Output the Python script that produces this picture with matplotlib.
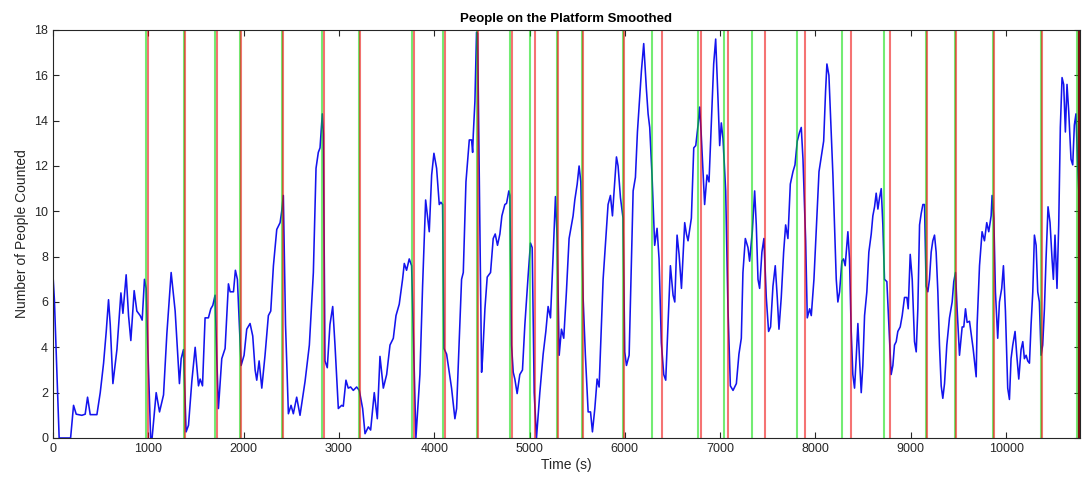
import numpy as np
import matplotlib
matplotlib.use('Agg')
import matplotlib.pyplot as plt

# smoothed people count
time_s = [0, 15, 40, 65, 185, 216, 244, 303, 338, 363, 391, 461, 496, 531, 559, 583, 601, 629, 671, 713,
          734, 768, 793, 817, 852, 880, 915, 936, 960, 978, 995, 1025, 1040, 1083, 1118, 1160, 1195, 1240, 1282, 1327,
          1345, 1369, 1397, 1422, 1457, 1492, 1527, 1544, 1569, 1596, 1631, 1656, 1677, 1701, 1719, 1736, 1771, 1806, 1841, 1859,
          1894, 1914, 1935, 1956, 1974, 2005, 2033, 2068, 2096, 2121, 2138, 2163, 2191, 2225, 2260, 2285, 2313, 2348, 2383, 2400,
          2417, 2440, 2470, 2498, 2522, 2557, 2592, 2645, 2690, 2732, 2760, 2784, 2802, 2826, 2837, 2854, 2878, 2906, 2935, 2959,
          2994, 3029, 3046, 3074, 3098, 3123, 3151, 3186, 3214, 3249, 3274, 3309, 3333, 3371, 3403, 3431, 3466, 3501, 3536, 3571,
          3599, 3633, 3668, 3686, 3710, 3738, 3763, 3808, 3850, 3878, 3910, 3948, 3973, 3997, 4025, 4053, 4070, 4088, 4102, 4130,
          4158, 4182, 4217, 4235, 4263, 4287, 4305, 4333, 4368, 4392, 4403, 4410, 4427, 4444, 4455, 4497, 4507, 4532, 4556, 4591,
          4619, 4640, 4664, 4689, 4710, 4741, 4759, 4783, 4794, 4811, 4829, 4846, 4870, 4898, 4926, 4951, 4986, 5010, 5028, 5049,
          5073, 5108, 5143, 5171, 5195, 5220, 5248, 5272, 5290, 5311, 5335, 5359, 5387, 5415, 5440, 5457, 5475, 5500, 5520, 5538,
          5562, 5586, 5615, 5640, 5660, 5685, 5709, 5730, 5754, 5772, 5800, 5824, 5849, 5870, 5884, 5912, 5929, 5954, 5981, 5999,
          6017, 6045, 6069, 6087, 6111, 6132, 6157, 6174, 6198, 6226, 6244, 6261, 6285, 6313, 6338, 6359, 6383, 6408, 6429, 6453,
          6478, 6506, 6524, 6548, 6569, 6594, 6611, 6628, 6646, 6663, 6698, 6723, 6744, 6768, 6785, 6800, 6837, 6862, 6883, 6907,
          6932, 6953, 6977, 6995, 7012, 7030, 7058, 7082, 7107, 7135, 7170, 7197, 7222, 7239, 7264, 7292, 7309, 7337, 7362, 7379,
          7397, 7414, 7438, 7459, 7484, 7508, 7529, 7554, 7578, 7599, 7617, 7641, 7666, 7687, 7711, 7736, 7764, 7785, 7809, 7834,
          7851, 7869, 7897, 7914, 7939, 7956, 7984, 8009, 8037, 8061, 8086, 8106, 8120, 8141, 8165, 8183, 8200, 8218, 8235, 8253,
          8277, 8294, 8312, 8340, 8357, 8375, 8392, 8410, 8427, 8445, 8462, 8480, 8497, 8515, 8539, 8560, 8585, 8602, 8620, 8637,
          8655, 8672, 8690, 8707, 8724, 8749, 8770, 8794, 8812, 8829, 8847, 8864, 8889, 8910, 8934, 8959, 8973, 8994, 9015, 9039,
          9057, 9074, 9092, 9109, 9127, 9144, 9161, 9179, 9196, 9214, 9231, 9249, 9266, 9284, 9301, 9319, 9336, 9354, 9378, 9406,
          9434, 9451, 9469, 9486, 9511, 9539, 9556, 9574, 9591, 9616, 9637, 9654, 9686, 9696, 9721, 9748, 9773, 9797, 9818, 9843,
          9853, 9871, 9888, 9912, 9930, 9954, 9972, 9993, 10017, 10035, 10052, 10070, 10094, 10112, 10133, 10157, 10175, 10192, 10210, 10227,
          10245, 10262, 10280, 10297, 10315, 10332, 10349, 10367, 10384, 10402, 10419, 10440, 10461, 10482, 10496, 10513, 10534, 10552, 10569, 10587,
          10604, 10622, 10639, 10657, 10681, 10699, 10716, 10733, 10751, 10768, 10775]
people = [7.2, 6.1, 3.0, 0, 0, 1.44, 1.05, 1.0, 1.05, 1.8, 1.03, 1.03, 2.0, 3.3, 4.7, 6.1, 5.0, 2.4, 3.9, 6.4,
          5.5, 7.2, 5.4, 4.3, 6.5, 5.6, 5.4, 5.2, 7.0, 6.6, 4.0, 0, 0, 2.0, 1.15, 1.9, 4.6, 7.3, 5.6, 2.4,
          3.5, 3.9, 0.27, 0.56, 2.5, 4.0, 2.3, 2.6, 2.3, 5.3, 5.3, 5.7, 5.85, 6.3, 3.5, 1.3, 3.5, 3.95, 6.8, 6.45,
          6.45, 7.4, 7.0, 5.0, 3.2, 3.65, 4.8, 5.05, 4.5, 3.0, 2.55, 3.4, 2.2, 3.65, 5.4, 5.6, 7.6, 9.2, 9.5, 10.0,
          10.7, 5.0, 1.07, 1.44, 1.07, 1.8, 1.0, 2.5, 4.1, 7.3, 11.9, 12.6, 12.8, 14.3, 13.4, 3.4, 3.1, 5.0, 5.8, 4.1,
          1.3, 1.44, 1.4, 2.55, 2.2, 2.25, 2.1, 2.25, 2.1, 1.3, 0.19, 0.49, 0.35, 2.0, 0.85, 3.6, 2.2, 2.8, 4.1, 4.4,
          5.4, 5.9, 7.0, 7.7, 7.4, 7.9, 7.6, 0, 2.8, 6.7, 10.5, 9.1, 11.6, 12.56, 11.9, 10.3, 10.4, 10.3, 3.95, 3.7,
          2.9, 2.2, 0.85, 1.3, 4.4, 7.0, 7.3, 11.3, 13.15, 13.15, 12.6, 13.4, 14.85, 17.9, 17.85, 2.9, 3.5, 5.7, 7.1, 7.3,
          8.8, 9.0, 8.5, 9.0, 9.8, 10.3, 10.35, 10.9, 10.7, 4.1, 2.9, 2.6, 1.96, 2.8, 3.0, 5.0, 7.2, 8.6, 8.4, 2.0,
          0, 2.0, 3.7, 4.7, 5.8, 5.3, 8.1, 10.65, 8.8, 3.65, 4.8, 4.4, 6.45, 8.8, 9.4, 9.8, 10.5, 11.2, 12.0, 11.3,
          6.2, 3.65, 1.15, 1.15, 0.27, 1.3, 2.6, 2.25, 5.0, 7.0, 8.8, 10.3, 10.7, 9.8, 10.7, 12.4, 12.0, 10.6, 9.7, 3.8,
          3.2, 3.65, 7.9, 10.9, 11.5, 13.5, 15.1, 16.2, 17.4, 15.4, 14.3, 13.7, 11.6, 8.5, 9.25, 7.9, 4.2, 2.8, 2.55, 5.0,
          7.6, 6.3, 6.0, 8.95, 8.1, 6.6, 8.1, 9.5, 9.0, 8.7, 9.7, 12.8, 12.9, 13.8, 14.6, 13.5, 10.3, 11.6, 11.3, 13.8,
          16.5, 17.6, 15.0, 12.9, 13.9, 13.2, 10.9, 5.7, 2.3, 2.1, 2.4, 3.7, 4.4, 7.3, 8.8, 8.4, 7.8, 9.1, 10.9, 9.4,
          7.0, 6.6, 8.2, 8.8, 6.2, 4.7, 4.9, 6.7, 7.6, 6.2, 4.8, 6.2, 8.2, 9.4, 8.8, 11.2, 11.75, 12.05, 13.1, 13.5,
          13.7, 12.3, 8.7, 5.3, 5.7, 5.4, 7.0, 9.25, 11.75, 12.4, 13.1, 15.3, 16.5, 16.0, 13.5, 11.6, 9.4, 7.0, 6.0, 6.45,
          7.8, 7.9, 7.6, 9.1, 7.9, 4.7, 2.8, 2.2, 3.5, 5.05, 3.5, 2.0, 3.2, 5.4, 6.45, 8.2, 9.0, 9.8, 10.2, 10.8,
          10.1, 10.6, 11.0, 9.4, 7.0, 6.9, 5.0, 2.8, 3.2, 4.1, 4.25, 4.7, 4.9, 5.4, 6.2, 6.2, 5.7, 8.1, 7.0, 4.25,
          3.8, 5.7, 9.4, 9.9, 10.3, 10.3, 6.7, 6.45, 7.0, 8.2, 8.7, 8.95, 8.2, 6.45, 4.1, 2.3, 1.75, 2.4, 4.1, 5.3,
          6.0, 6.9, 7.3, 5.7, 3.65, 4.9, 4.9, 5.7, 5.1, 5.15, 4.5, 3.95, 2.7, 5.0, 7.6, 9.1, 8.7, 9.5, 9.1, 9.8,
          10.7, 9.7, 6.45, 4.4, 6.0, 6.6, 7.6, 5.6, 2.2, 1.7, 3.5, 4.1, 4.7, 3.65, 2.6, 3.9, 4.25, 3.5, 3.65, 3.4,
          3.3, 5.0, 6.45, 8.95, 8.5, 6.45, 6.0, 3.65, 4.1, 5.7, 7.9, 10.2, 9.5, 7.9, 7.0, 8.95, 6.6, 9.4, 13.7, 15.9,
          15.6, 13.5, 15.6, 14.4, 12.3, 12.05, 13.8, 14.3, 12.05, 10.4, 8.5]

# train arrival (green) and departure (red) times
arrivals = [975, 1374, 1701, 1958, 2406, 2820, 3209, 3763, 4094, 4450, 4794, 5010, 5285, 5551,
            5983, 6289, 6767, 7037, 7338, 7805, 8281, 8724, 9156, 9464, 9864, 10362, 10745]
departures = [999, 1385, 1725, 1969, 2417, 2841, 3220, 3784, 4115, 4461, 4818, 5055, 5296, 5562,
              5994, 6394, 6803, 7082, 7474, 7886, 8368, 8777, 9167, 9475, 9875, 10373, 10760]

plt.rcParams['font.family'] = ['Liberation Sans', 'DejaVu Sans']
fig = plt.figure(figsize=(10.83, 4.83), dpi=100)
ax = fig.add_axes([0.0489, 0.0932, 0.9483, 0.8447])

ax.plot(time_s, people, color='#1414ee', lw=1.15)
for t in arrivals:
    ax.axvline(t, color='#00dd00', lw=1.5, alpha=0.55)
for t in departures:
    ax.axvline(t, color='#ee0000', lw=1.5, alpha=0.55)
# dark closing marker at the end of the record
ax.axvline(10770, color='#7a1010', lw=1.6)

ax.set_xlim(0, 10775)
ax.set_ylim(0, 18)
ax.set_xticks(np.arange(0, 10001, 1000))
ax.set_yticks(np.arange(0, 19, 2))
ax.tick_params(direction='in', top=True, right=True, length=4, labelsize=9, colors='#262626')
for s in ax.spines.values():
    s.set_color('#262626')
    s.set_linewidth(0.8)

ax.set_title('People on the Platform Smoothed', fontsize=9.5, fontweight='bold', pad=6)
ax.set_xlabel('Time (s)', fontsize=10, color='#262626', labelpad=2)
ax.set_ylabel('Number of People Counted', fontsize=10, color='#262626', labelpad=4)

fig.savefig('out.png', dpi=100)
